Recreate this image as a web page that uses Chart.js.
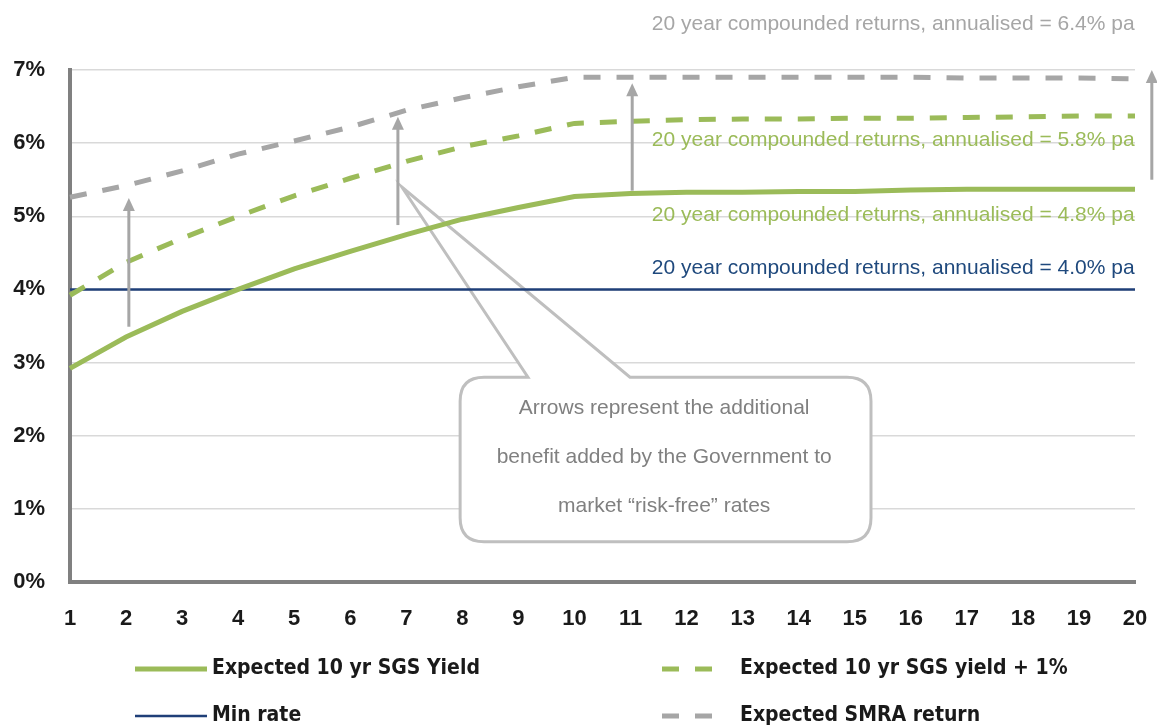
<!DOCTYPE html>
<html>
<head>
<meta charset="utf-8">
<script src="https://cdn.jsdelivr.net/npm/chart.js@4.4.1/dist/chart.umd.min.js"></script>
<style>
    html, body { margin: 0; padding: 0; background: #ffffff; }
    #wrap { width: 1157px; height: 726px; position: relative; }
</style>
</head>
<body>
<div id="wrap"><canvas id="chart"></canvas></div>
<script>
// Data
const years = ['1', '2', '3', '4', '5', '6', '7', '8', '9', '10', '11', '12', '13', '14', '15', '16', '17', '18', '19', '20'];
const sgsYield = [2.92, 3.35, 3.70, 4.00, 4.28, 4.52, 4.75, 4.96, 5.12, 5.27, 5.31, 5.33, 5.33, 5.34, 5.34, 5.36, 5.37, 5.37, 5.37, 5.37];
const sgsPlusOne = [3.92, 4.37, 4.70, 5.00, 5.28, 5.52, 5.75, 5.95, 6.10, 6.27, 6.30, 6.32, 6.33, 6.33, 6.34, 6.34, 6.35, 6.36, 6.37, 6.37];
const minRate = [4.0, 4.0, 4.0, 4.0, 4.0, 4.0, 4.0, 4.0, 4.0, 4.0, 4.0, 4.0, 4.0, 4.0, 4.0, 4.0, 4.0, 4.0, 4.0, 4.0];
const smraReturn = [5.26, 5.42, 5.62, 5.85, 6.03, 6.22, 6.45, 6.62, 6.77, 6.90, 6.90, 6.90, 6.90, 6.90, 6.90, 6.90, 6.89, 6.89, 6.89, 6.88];
const yTicks = [0, 1, 2, 3, 4, 5, 6, 7];

// Annotations (in axis units: category index / percent)
const arrowAt = [1.05, 5.85, 10.03, 19.3];
const arrowFrom = [3.49, 4.88, 5.35, 5.50];
const arrowTo = [5.25, 6.36, 6.82, 7.00];

const noteTexts = [
    '20 year compounded returns, annualised = 6.4% pa',
    '20 year compounded returns, annualised = 5.8% pa',
    '20 year compounded returns, annualised = 4.8% pa',
    '20 year compounded returns, annualised = 4.0% pa'
];
const noteLevels = [7.63, 6.04, 5.02, 4.29];
const noteColors = ['#a6a6a6', '#9bbb59', '#9bbb59', '#1f497d'];

const calloutLines = [
    'Arrows represent the additional',
    'benefit added by the Government to',
    'market \u201crisk-free\u201d rates'
];
const calloutLevels = [2.37, 1.70, 1.03];

const GREEN = '#9bbb59';
const GREY = '#a6a6a6';
const NAVY = '#1f3f78';
const DASH = [17, 16];

function px(chart, i) { return chart.scales.x.getPixelForValue(i); }
function py(chart, v) { return chart.scales.y.getPixelForValue(v); }

// Callout box goes under the lines
const calloutPlugin = {
    id: 'callout',
    beforeDatasetsDraw(chart) {
        const ctx = chart.ctx;
        const l = px(chart, 6.96), r = px(chart, 14.29);
        const t = py(chart, 2.80), b = py(chart, 0.55);
        const tl = px(chart, 8.17), tr = px(chart, 9.99);
        const tipX = px(chart, 5.92), tipY = py(chart, 5.40);
        const rad = 24;
        ctx.save();
        ctx.beginPath();
        ctx.moveTo(l + rad, t);
        ctx.lineTo(tl, t);
        ctx.lineTo(tipX, tipY);
        ctx.lineTo(tr, t);
        ctx.lineTo(r - rad, t);
        ctx.quadraticCurveTo(r, t, r, t + rad);
        ctx.lineTo(r, b - rad);
        ctx.quadraticCurveTo(r, b, r - rad, b);
        ctx.lineTo(l + rad, b);
        ctx.quadraticCurveTo(l, b, l, b - rad);
        ctx.lineTo(l, t + rad);
        ctx.quadraticCurveTo(l, t, l + rad, t);
        ctx.closePath();
        ctx.fillStyle = '#ffffff';
        ctx.fill();
        ctx.strokeStyle = '#bfbfbf';
        ctx.lineWidth = 3;
        ctx.stroke();

        ctx.fillStyle = '#808080';
        ctx.font = '21px "Liberation Sans", Arial, sans-serif';
        ctx.textAlign = 'center';
        ctx.textBaseline = 'middle';
        const cx = px(chart, 10.6);
        calloutLines.forEach((s, k) => ctx.fillText(s, cx, py(chart, calloutLevels[k])));
        ctx.restore();
    }
};

// Arrows, right-hand notes and legend on top
const overlayPlugin = {
    id: 'overlay',
    afterDatasetsDraw(chart) {
        const ctx = chart.ctx;
        ctx.save();

        // arrows
        ctx.strokeStyle = GREY;
        ctx.fillStyle = GREY;
        ctx.lineWidth = 3;
        arrowAt.forEach((a, k) => {
            const x = px(chart, a);
            const y0 = py(chart, arrowFrom[k]);
            const y1 = py(chart, arrowTo[k]);
            ctx.beginPath();
            ctx.moveTo(x, y0);
            ctx.lineTo(x, y1 + 10);
            ctx.stroke();
            ctx.beginPath();
            ctx.moveTo(x, y1);
            ctx.lineTo(x - 6, y1 + 13);
            ctx.lineTo(x + 6, y1 + 13);
            ctx.closePath();
            ctx.fill();
        });

        // notes
        ctx.font = '21px "Liberation Sans", Arial, sans-serif';
        ctx.textAlign = 'left';
        ctx.textBaseline = 'middle';
        const nx = px(chart, 10.38);
        noteTexts.forEach((s, k) => {
            ctx.fillStyle = noteColors[k];
            ctx.fillText(s, nx, py(chart, noteLevels[k]));
        });

        // legend
        const slots = [
            { x: 135, y: 669 }, { x: 662, y: 669 },
            { x: 135, y: 716 }, { x: 662, y: 716 }
        ];
        const order = [0, 1, 2, 3];
        ctx.font = 'bold 21px "DejaVu Sans Condensed", sans-serif';
        ctx.textBaseline = 'middle';
        order.forEach((di, k) => {
            const ds = chart.data.datasets[di];
            const s = slots[k];
            ctx.strokeStyle = ds.borderColor;
            ctx.lineWidth = ds.borderWidth;
            ctx.setLineDash(ds.borderDash || []);
            ctx.beginPath();
            if (ds.borderDash) {
                ctx.moveTo(s.x, s.y);
                ctx.lineTo(s.x + 51, s.y);
            } else {
                ctx.moveTo(s.x, s.y);
                ctx.lineTo(s.x + 72, s.y);
            }
            ctx.stroke();
            ctx.setLineDash([]);
            ctx.fillStyle = '#1a1a1a';
            ctx.fillText(ds.label, ds.borderDash ? s.x + 78 : s.x + 77, s.y);
        });

        ctx.restore();
    }
};

const ctx = document.getElementById('chart').getContext('2d');
new Chart(ctx, {
    type: 'line',
    data: {
        labels: years,
        datasets: [
            { label: 'Expected 10 yr SGS Yield', data: sgsYield, borderColor: GREEN, borderWidth: 5 },
            { label: 'Expected 10 yr SGS yield + 1%', data: sgsPlusOne, borderColor: GREEN, borderWidth: 5, borderDash: DASH },
            { label: 'Min rate', data: minRate, borderColor: NAVY, borderWidth: 2.5 },
            { label: 'Expected SMRA return', data: smraReturn, borderColor: GREY, borderWidth: 5, borderDash: DASH }
        ]
    },
    options: {
        responsive: true,
        maintainAspectRatio: false,
        animation: false,
        elements: {
            point: { radius: 0, hoverRadius: 0 },
            line: { tension: 0, fill: false, borderCapStyle: 'butt' }
        },
        layout: { padding: { top: 70, right: 22, bottom: 84, left: 0 } },
        plugins: {
            legend: { display: false },
            tooltip: { enabled: false }
        },
        scales: {
            x: {
                offset: false,
                grid: { display: false, drawTicks: false },
                border: { display: true, color: '#808080', width: 4 },
                ticks: {
                    padding: 24,
                    color: '#1a1a1a',
                    maxRotation: 0,
                    autoSkip: false,
                    font: { family: '"Liberation Sans", Arial, sans-serif', size: 22, weight: 'bold' }
                },
                afterFit(scale) {
                    scale.height = 60;
                    scale.paddingLeft = 0;
                    scale.paddingRight = 0;
                }
            },
            y: {
                min: yTicks[0],
                max: yTicks[yTicks.length - 1],
                afterBuildTicks(scale) { scale.ticks = yTicks.map(v => ({ value: v })); },
                grid: { color: '#d9d9d9', lineWidth: 1.5, drawTicks: false },
                border: { display: true, color: '#808080', width: 4 },
                ticks: {
                    padding: 25,
                    color: '#1a1a1a',
                    font: { family: '"Liberation Sans", Arial, sans-serif', size: 22, weight: 'bold' },
                    callback: function(value) { return value + '%'; }
                },
                afterFit(scale) {
                    scale.width = 70;
                    scale.paddingTop = 0;
                    scale.paddingBottom = 0;
                }
            }
        }
    },
    plugins: [calloutPlugin, overlayPlugin]
});
</script>
</body>
</html>
